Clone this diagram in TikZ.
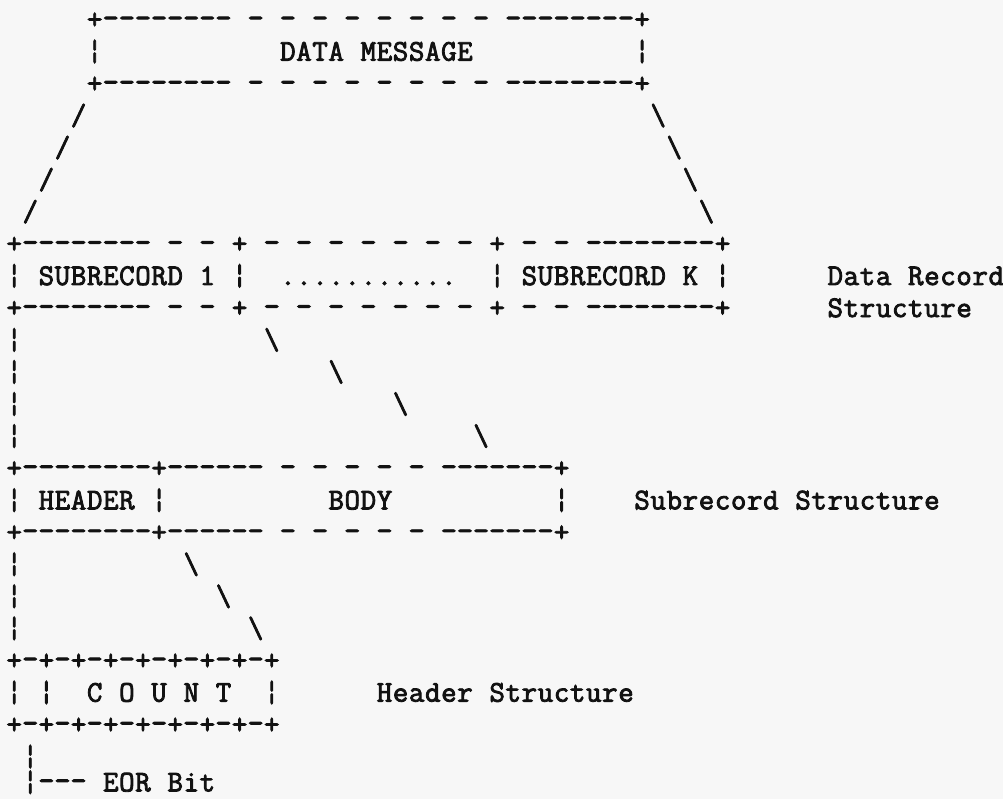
\documentclass[tikz,border=0pt]{standalone}
\usepackage{fontspec}
\definecolor{paper}{RGB}{247,247,247}
\definecolor{ink}{RGB}{18,18,18}
% typewriter face on a fixed character grid: one column = 16.1pt, one line = 32.05pt
\newlength\cellw
\setlength\cellw{16.1pt}
\newcommand\typefont{\ttfamily\fontsize{30}{32}\selectfont}
% heavier strike: fill and stroke the glyph outlines
\newcommand\strikeon{\special{pdf:literal direct 2 Tr 0.85 w}}
\newcommand\strikeoff{\special{pdf:literal direct 0 Tr}}
% set every character of a line in its own fixed-width cell;
% the typewriter hyphen is a touch heavier than the font's
\ExplSyntaxOn
\NewDocumentCommand \cells { m }
  {
    \str_map_inline:nn {#1}
      {
        \str_if_eq:nnTF {##1} {-}
          { \makebox[\cellw][c]{\scalebox{1.04}[1.15]{-}} }
          { \makebox[\cellw][c]{##1} }
      }
  }
\ExplSyntaxOff
\tikzset{
  typed/.style={inner sep=0pt, anchor=base west, text=ink, font=\typefont, yshift=-8.6pt},
}
% \typeat{name}{column}{line}{text}
\newcommand\typeat[4]{\node[typed] (#1) at ({#2-0.5},#3) {\strikeon\cells{#4}\strikeoff};}
% \backat{name}{column}{line}: a single backslash mark
\newcommand\backat[3]{\node[typed] (#1) at ({#2-0.5},#3) {\strikeon\makebox[\cellw][c]{\textbackslash}\strikeoff};}
\begin{document}
\begin{tikzpicture}[x=16.1pt,y=-32.05pt]
\useasboundingbox[fill=paper] (-0.8696,-0.6240) rectangle (61.4286,24.3058);

% data message box
\typeat{msgtop}{5}{0}{+-------- - - - - - - - - --------+}
\typeat{msgl}{5}{1}{¦}
\typeat{msgtext}{17}{1}{DATA MESSAGE}
\typeat{msgr}{39}{1}{¦}
\typeat{msgbot}{5}{2}{+-------- - - - - - - - - --------+}

% fan-out to the data record
\typeat{fl1}{4}{3}{/}  \backat{fr1}{40}{3}
\typeat{fl2}{3}{4}{/}  \backat{fr2}{41}{4}
\typeat{fl3}{2}{5}{/}  \backat{fr3}{42}{5}
\typeat{fl4}{1}{6}{/}  \backat{fr4}{43}{6}

% data record structure
\typeat{rectop}{0}{7}{+-------- - - + - - - - - - - + - - --------+}
\typeat{recb0}{0}{8}{¦}
\typeat{sub1}{2}{8}{SUBRECORD 1}
\typeat{recb1}{14}{8}{¦}
\typeat{dots}{17}{8}{...........}
\typeat{recb2}{30}{8}{¦}
\typeat{subk}{32}{8}{SUBRECORD K}
\typeat{recb3}{44}{8}{¦}
\typeat{reclabel}{51}{8}{Data Record}
\typeat{recbot}{0}{9}{+-------- - - + - - - - - - - + - - --------+}
\typeat{reclabel2}{51}{9}{Structure}

% drop from the first subrecord
\typeat{sv1}{0}{10}{¦} \backat{sd1}{16}{10}
\typeat{sv2}{0}{11}{¦} \backat{sd2}{20}{11}
\typeat{sv3}{0}{12}{¦} \backat{sd3}{24}{12}
\typeat{sv4}{0}{13}{¦} \backat{sd4}{29}{13}

% subrecord structure
\typeat{subtop}{0}{14}{+--------+------ - - - - - -------+}
\typeat{subb0}{0}{15}{¦}
\typeat{header}{2}{15}{HEADER}
\typeat{subb1}{9}{15}{¦}
\typeat{body}{20}{15}{BODY}
\typeat{subb2}{34}{15}{¦}
\typeat{sublabel}{39}{15}{Subrecord Structure}
\typeat{subbot}{0}{16}{+--------+------ - - - - - -------+}

% drop from the header
\typeat{hv1}{0}{17}{¦} \backat{hd1}{11}{17}
\typeat{hv2}{0}{18}{¦} \backat{hd2}{13}{18}
\typeat{hv3}{0}{19}{¦} \backat{hd3}{15}{19}

% header structure
\typeat{hdrtop}{0}{20}{+-+-+-+-+-+-+-+-+}
\typeat{hdrb0}{0}{21}{¦}
\typeat{hdrb1}{2}{21}{¦}
\typeat{count}{5}{21}{C O U N T}
\typeat{hdrb2}{16}{21}{¦}
\typeat{hdrlabel}{23}{21}{Header Structure}
\typeat{hdrbot}{0}{22}{+-+-+-+-+-+-+-+-+}

% end-of-record bit
\typeat{eorv}{1}{23}{¦}
\typeat{eorbar}{1}{23.8}{¦}
\typeat{eor}{2}{23.8}{--- EOR Bit}
\end{tikzpicture}
\end{document}
